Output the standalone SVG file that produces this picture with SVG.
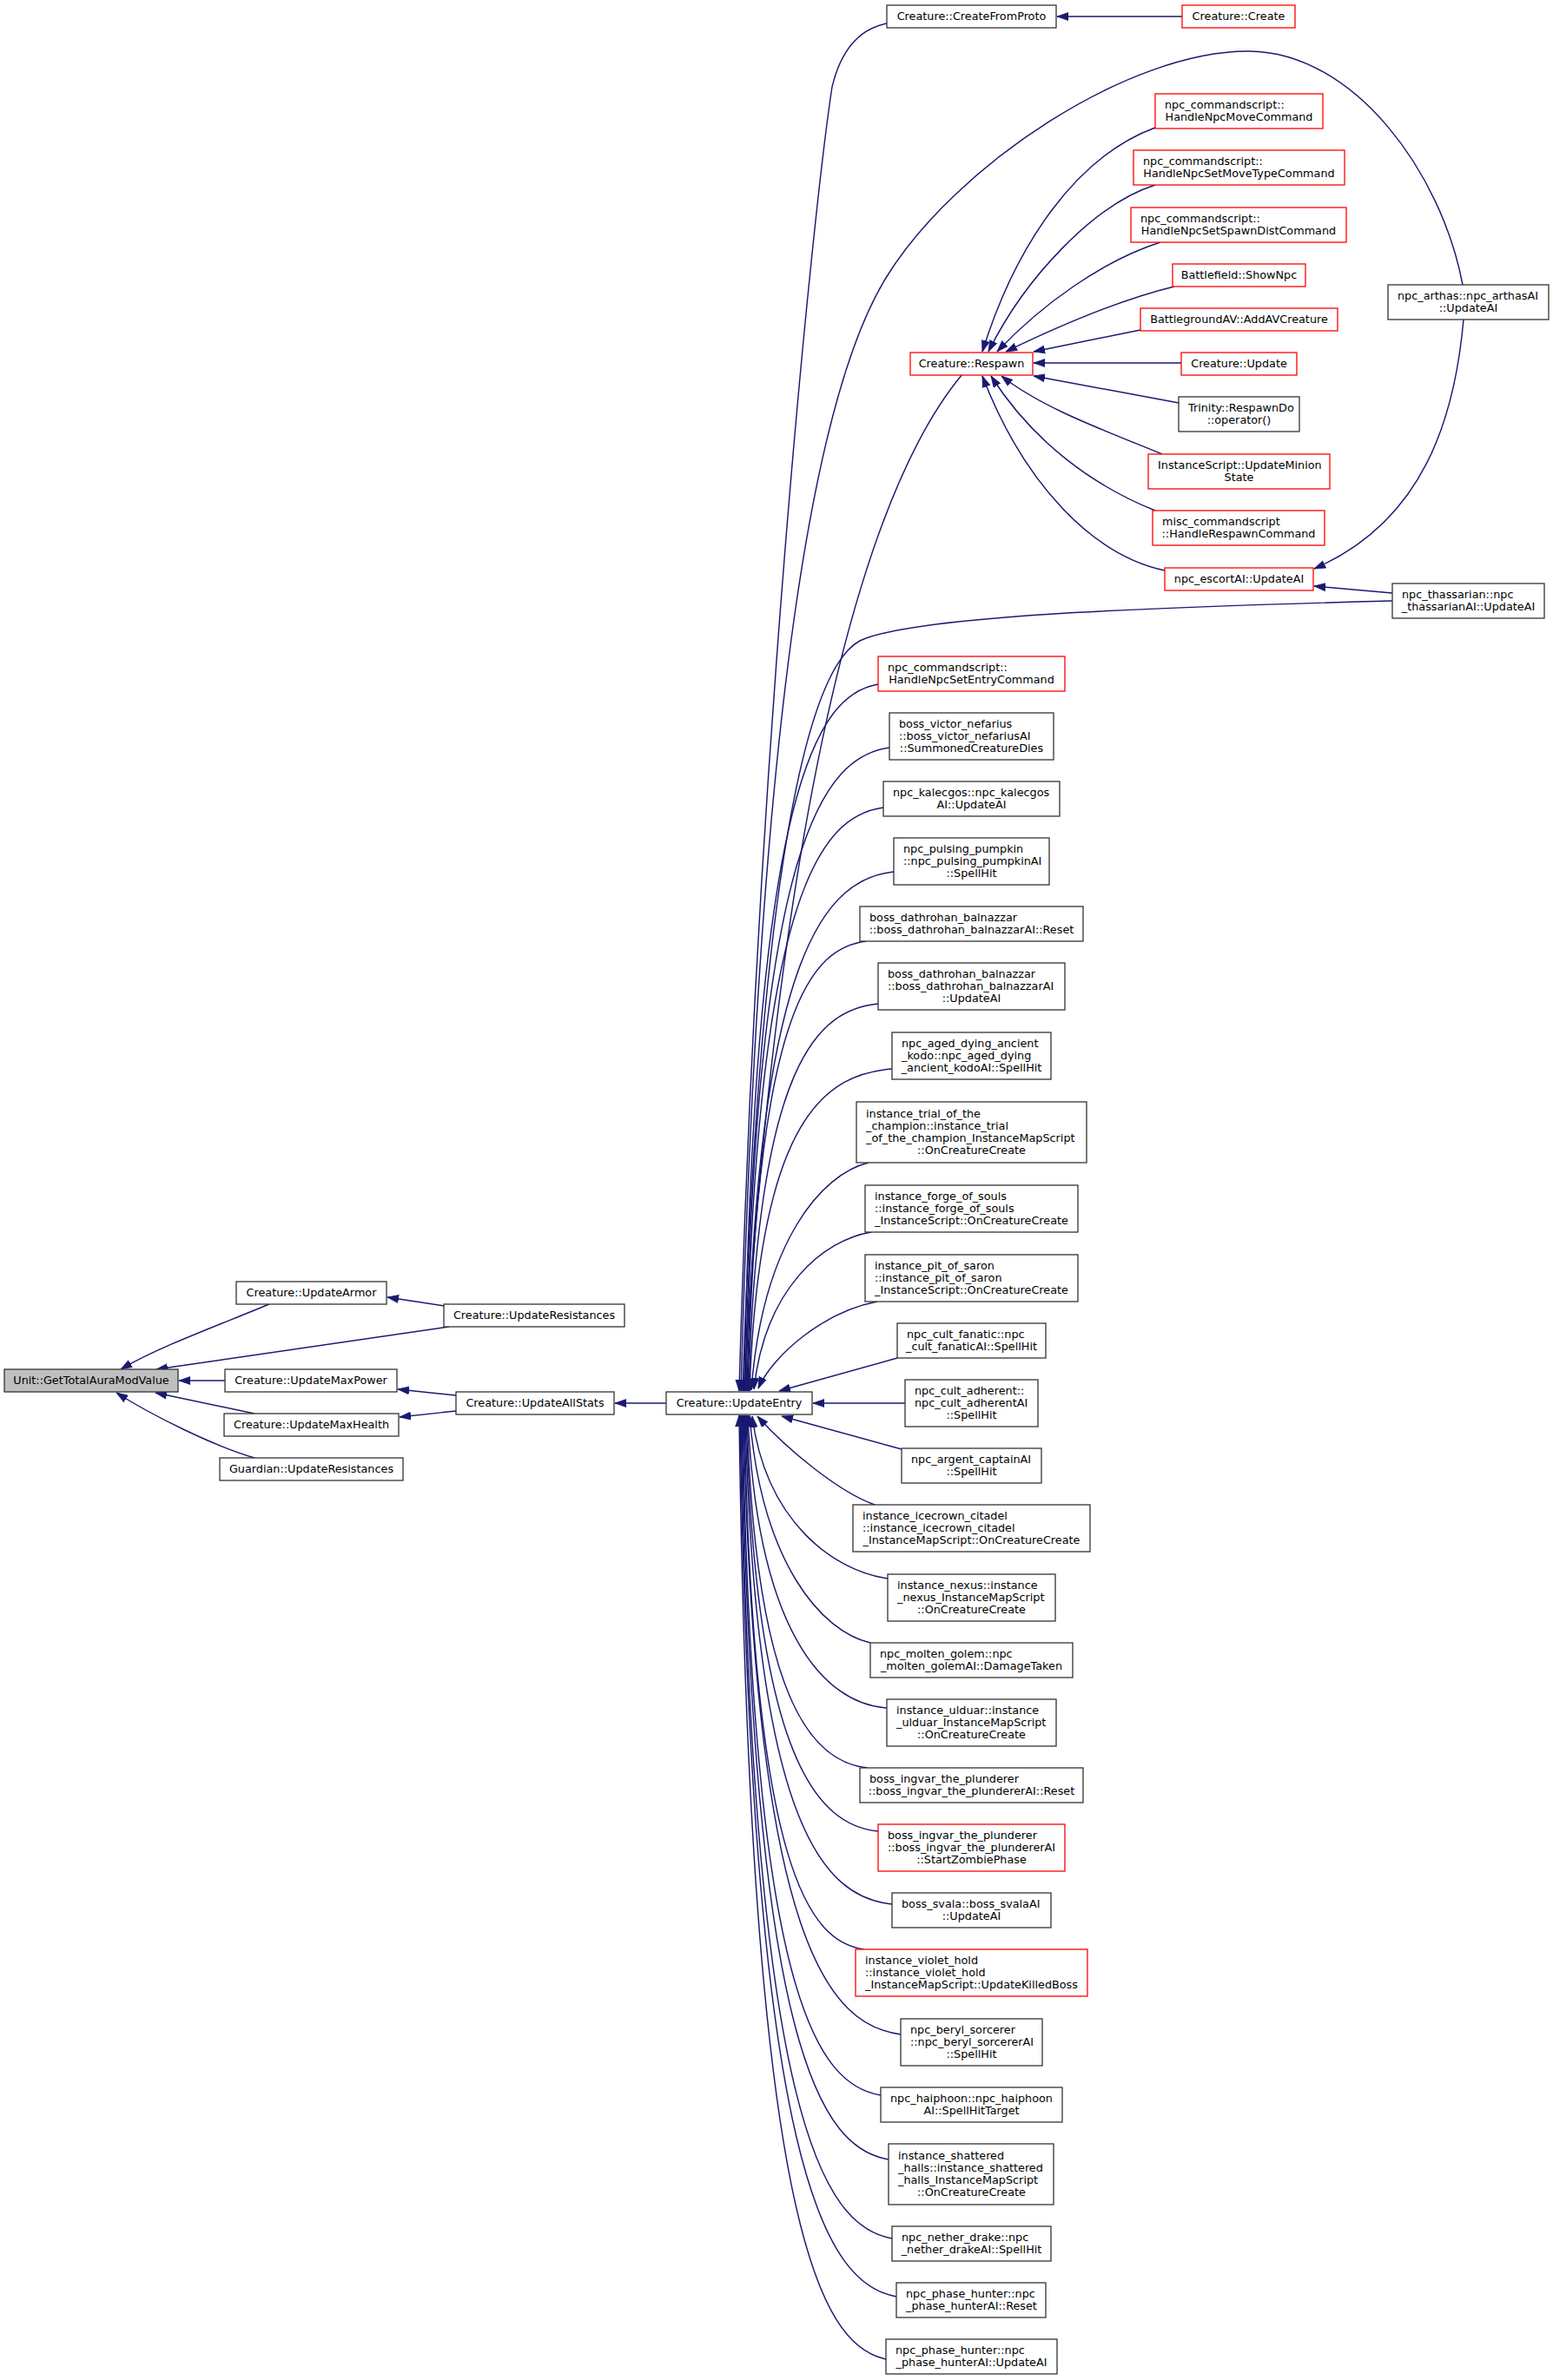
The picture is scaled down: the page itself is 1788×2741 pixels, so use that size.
<svg xmlns="http://www.w3.org/2000/svg" width="1788" height="2741" viewBox="0 0 1788 2741">
<style>
.bg{fill:#fff}
.node rect{fill:#fff;stroke:#333;stroke-width:1.3}
.node.red rect{stroke:#ff0000}
.node.main rect{fill:#bfbfbf}
text{font-family:'DejaVu Sans',sans-serif;font-size:12.8px;fill:#000}
.c{text-anchor:middle}
#edges path{fill:none;stroke:#191970;stroke-width:1.45;marker-end:url(#ah)}
</style>
<defs>
<marker id="ah" markerUnits="userSpaceOnUse" viewBox="0 0 13 10" markerWidth="13" markerHeight="10" refX="13" refY="5" orient="auto"><path d="M0,0.5 L13,5 L0,9.5 z" fill="#191970" stroke="#191970" stroke-width="0.8"/></marker>
</defs>
<rect class="bg" x="0" y="0" width="1788" height="2741"/>
<g id="edges">
<path d="M310,1502 C255,1525 185,1550 139,1577"/>
<path d="M511,1504 L446,1494"/>
<path d="M517,1528 L180,1577"/>
<path d="M259,1590 L206,1590"/>
<path d="M293,1628 L179,1604"/>
<path d="M293,1679 C245,1665 175,1630 134,1604"/>
<path d="M525,1607 L458,1600"/>
<path d="M525,1625 L460,1632"/>
<path d="M767,1616 L708,1616"/>
<path d="M1042,1616 L936,1616"/>
<path d="M1361,19 L1217,19"/>
<path d="M1021,27 C995,32 970,50 958,100 C935,250 870,900 851,1602"/>
<path d="M1684,328 C1660,200 1560,60 1438,59 C1300,58 1100,190 1020,320 C940,450 875,800 853,1602"/>
<path d="M1108,431 C1000,560 900,900 856,1602"/>
<path d="M1603,692 C1300,700 1050,710 990,738 C930,770 875,1000 855,1602"/>
<path d="M1011,788 C942,800 868,902 857,1602"/>
<path d="M1024,861 C949,872 870,965 858,1602"/>
<path d="M1017,930 C946,940 870,1024 859,1602"/>
<path d="M1029,1004 C953,1013 872,1088 860,1602"/>
<path d="M997,1084 C936,1092 871,1156 861,1602"/>
<path d="M1011,1156 C944,1163 872,1218 862,1602"/>
<path d="M1027,1231 C953,1237 874,1283 863,1602"/>
<path d="M1000,1339 C946,1352 878,1430 865,1601"/>
<path d="M1003,1419 C949,1428 881,1482 868,1600"/>
<path d="M1010,1499 C950,1510 890,1560 873,1599"/>
<path d="M1033,1564 L897,1602"/>
<path d="M1038,1669 L900,1631"/>
<path d="M1007,1733 C965,1718 905,1668 872,1631"/>
<path d="M1022,1818 C960,1809 882,1753 866,1631"/>
<path d="M1002,1892 C946,1879 877,1801 863,1630"/>
<path d="M1021,1967 C949,1962 872,1880 861,1630"/>
<path d="M999,2036 C936,2030 870,1960 860,1630"/>
<path d="M1011,2109 C943,2102 870,2030 859,1630"/>
<path d="M1027,2193 C951,2185 870,2110 858,1630"/>
<path d="M995,2245 C933,2236 867,2160 857,1630"/>
<path d="M1037,2343 C956,2332 869,2243 856,1630"/>
<path d="M1014,2413 C942,2401 866,2304 855,1630"/>
<path d="M1023,2487 C947,2474 866,2367 854,1630"/>
<path d="M1027,2578 C949,2564 865,2445 853,1630"/>
<path d="M1032,2645 C951,2630 865,2503 852,1630"/>
<path d="M1020,2717 C944,2701 863,2565 851,1630"/>
<path d="M1330,147 C1240,180 1170,280 1131,405"/>
<path d="M1330,213 C1260,235 1180,320 1138,405"/>
<path d="M1336,279 C1270,300 1200,350 1148,405"/>
<path d="M1352,330 C1290,345 1220,375 1158,405"/>
<path d="M1313,380 L1190,405"/>
<path d="M1360,418 L1190,418"/>
<path d="M1357,464 L1190,433"/>
<path d="M1338,523 C1270,495 1200,470 1153,433"/>
<path d="M1330,588 C1260,560 1190,510 1141,433"/>
<path d="M1341,657 C1260,640 1180,560 1131,433"/>
<path d="M1685,368 C1675,480 1640,600 1513,655"/>
<path d="M1603,683 L1513,675"/>
</g>
<g id="unit_gettotalauramodvalue" class="node main"><rect x="5" y="1577" width="200" height="26"/><text class="c" x="105" y="1594">Unit::GetTotalAuraModValue</text></g>
<g id="creature_updatearmor" class="node"><rect x="272" y="1476" width="173" height="26"/><text class="c" x="358.5" y="1493">Creature::UpdateArmor</text></g>
<g id="creature_updateresistances" class="node"><rect x="511" y="1502" width="208" height="26"/><text class="c" x="615" y="1519">Creature::UpdateResistances</text></g>
<g id="creature_updatemaxpower" class="node"><rect x="259" y="1577" width="198" height="26"/><text class="c" x="358" y="1594">Creature::UpdateMaxPower</text></g>
<g id="creature_updatemaxhealth" class="node"><rect x="258" y="1628" width="201" height="26"/><text class="c" x="358.5" y="1645">Creature::UpdateMaxHealth</text></g>
<g id="guardian_updateresistances" class="node"><rect x="253" y="1679" width="211" height="26"/><text class="c" x="358.5" y="1696">Guardian::UpdateResistances</text></g>
<g id="creature_updateallstats" class="node"><rect x="525" y="1603" width="182" height="26"/><text class="c" x="616" y="1620">Creature::UpdateAllStats</text></g>
<g id="creature_updateentry" class="node"><rect x="767" y="1603" width="168" height="26"/><text class="c" x="851" y="1620">Creature::UpdateEntry</text></g>
<g id="creature_createfromproto" class="node"><rect x="1021" y="6" width="195" height="26"/><text class="c" x="1118.5" y="23">Creature::CreateFromProto</text></g>
<g id="creature_create" class="node red"><rect x="1361" y="6" width="130" height="26"/><text class="c" x="1426" y="23">Creature::Create</text></g>
<g id="handlenpcmovecommand" class="node red"><rect x="1330" y="108" width="193" height="40"/><text x="1341" y="125">npc_commandscript::</text><text class="c" x="1426.5" y="139">HandleNpcMoveCommand</text></g>
<g id="handlenpcsetmovetypecommand" class="node red"><rect x="1305" y="173" width="243" height="40"/><text x="1316" y="190">npc_commandscript::</text><text class="c" x="1426.5" y="204">HandleNpcSetMoveTypeCommand</text></g>
<g id="handlenpcsetspawndistcommand" class="node red"><rect x="1302" y="239" width="248" height="40"/><text x="1313" y="256">npc_commandscript::</text><text class="c" x="1426" y="270">HandleNpcSetSpawnDistCommand</text></g>
<g id="battlefield_shownpc" class="node red"><rect x="1350" y="304" width="153" height="26"/><text class="c" x="1426.5" y="321">Battlefield::ShowNpc</text></g>
<g id="battlegroundav_addavcreature" class="node red"><rect x="1313" y="355" width="227" height="26"/><text class="c" x="1426.5" y="372">BattlegroundAV::AddAVCreature</text></g>
<g id="creature_respawn" class="node red"><rect x="1048" y="406" width="141" height="26"/><text class="c" x="1118.5" y="423">Creature::Respawn</text></g>
<g id="creature_update" class="node red"><rect x="1360" y="406" width="133" height="26"/><text class="c" x="1426.5" y="423">Creature::Update</text></g>
<g id="trinity_respawndo" class="node"><rect x="1357" y="457" width="139" height="40"/><text x="1368" y="474">Trinity::RespawnDo</text><text class="c" x="1426.5" y="488">::operator()</text></g>
<g id="instancescript_updateminionstate" class="node red"><rect x="1322" y="523" width="209" height="40"/><text x="1333" y="540">InstanceScript::UpdateMinion</text><text class="c" x="1426.5" y="554">State</text></g>
<g id="misc_handlerespawncommand" class="node red"><rect x="1327" y="588" width="198" height="40"/><text x="1338" y="605">misc_commandscript</text><text class="c" x="1426" y="619">::HandleRespawnCommand</text></g>
<g id="npc_escortai_updateai" class="node red"><rect x="1341" y="654" width="171" height="26"/><text class="c" x="1426.5" y="671">npc_escortAI::UpdateAI</text></g>
<g id="npc_arthas_updateai" class="node"><rect x="1598" y="328" width="185" height="40"/><text x="1609" y="345">npc_arthas::npc_arthasAI</text><text class="c" x="1690.5" y="359">::UpdateAI</text></g>
<g id="npc_thassarian_updateai" class="node"><rect x="1603" y="672" width="175" height="40"/><text x="1614" y="689">npc_thassarian::npc</text><text class="c" x="1690.5" y="703">_thassarianAI::UpdateAI</text></g>
<g id="handlenpcsetentrycommand" class="node red"><rect x="1011" y="756" width="215" height="40"/><text x="1022" y="773">npc_commandscript::</text><text class="c" x="1118.5" y="787">HandleNpcSetEntryCommand</text></g>
<g id="boss_victor_nefarius" class="node"><rect x="1024" y="821" width="189" height="54"/><text x="1035" y="838">boss_victor_nefarius</text><text x="1035" y="852">::boss_victor_nefariusAI</text><text class="c" x="1118.5" y="866">::SummonedCreatureDies</text></g>
<g id="npc_kalecgos" class="node"><rect x="1017" y="900" width="203" height="40"/><text x="1028" y="917">npc_kalecgos::npc_kalecgos</text><text class="c" x="1118.5" y="931">AI::UpdateAI</text></g>
<g id="npc_pulsing_pumpkin" class="node"><rect x="1029" y="965" width="179" height="54"/><text x="1040" y="982">npc_pulsing_pumpkin</text><text x="1040" y="996">::npc_pulsing_pumpkinAI</text><text class="c" x="1118.5" y="1010">::SpellHit</text></g>
<g id="boss_dathrohan_reset" class="node"><rect x="990" y="1044" width="257" height="40"/><text x="1001" y="1061">boss_dathrohan_balnazzar</text><text class="c" x="1118.5" y="1075">::boss_dathrohan_balnazzarAI::Reset</text></g>
<g id="boss_dathrohan_updateai" class="node"><rect x="1011" y="1109" width="215" height="54"/><text x="1022" y="1126">boss_dathrohan_balnazzar</text><text x="1022" y="1140">::boss_dathrohan_balnazzarAI</text><text class="c" x="1118.5" y="1154">::UpdateAI</text></g>
<g id="npc_aged_dying_ancient_kodo" class="node"><rect x="1027" y="1189" width="183" height="54"/><text x="1038" y="1206">npc_aged_dying_ancient</text><text x="1038" y="1220">_kodo::npc_aged_dying</text><text class="c" x="1118.5" y="1234">_ancient_kodoAI::SpellHit</text></g>
<g id="instance_trial_of_the_champion" class="node"><rect x="986" y="1269" width="265" height="70"/><text x="997" y="1287">instance_trial_of_the</text><text x="997" y="1301">_champion::instance_trial</text><text x="997" y="1315">_of_the_champion_InstanceMapScript</text><text class="c" x="1118.5" y="1329">::OnCreatureCreate</text></g>
<g id="instance_forge_of_souls" class="node"><rect x="996" y="1365" width="245" height="54"/><text x="1007" y="1382">instance_forge_of_souls</text><text x="1007" y="1396">::instance_forge_of_souls</text><text class="c" x="1118.5" y="1410">_InstanceScript::OnCreatureCreate</text></g>
<g id="instance_pit_of_saron" class="node"><rect x="996" y="1445" width="245" height="54"/><text x="1007" y="1462">instance_pit_of_saron</text><text x="1007" y="1476">::instance_pit_of_saron</text><text class="c" x="1118.5" y="1490">_InstanceScript::OnCreatureCreate</text></g>
<g id="npc_cult_fanatic" class="node"><rect x="1033" y="1524" width="171" height="40"/><text x="1044" y="1541">npc_cult_fanatic::npc</text><text class="c" x="1118.5" y="1555">_cult_fanaticAI::SpellHit</text></g>
<g id="npc_cult_adherent" class="node"><rect x="1042" y="1589" width="153" height="54"/><text x="1053" y="1606">npc_cult_adherent::</text><text x="1053" y="1620">npc_cult_adherentAI</text><text class="c" x="1118.5" y="1634">::SpellHit</text></g>
<g id="npc_argent_captain" class="node"><rect x="1038" y="1668" width="161" height="40"/><text x="1049" y="1685">npc_argent_captainAI</text><text class="c" x="1118.5" y="1699">::SpellHit</text></g>
<g id="instance_icecrown_citadel" class="node"><rect x="982" y="1733" width="273" height="54"/><text x="993" y="1750">instance_icecrown_citadel</text><text x="993" y="1764">::instance_icecrown_citadel</text><text class="c" x="1118.5" y="1778">_InstanceMapScript::OnCreatureCreate</text></g>
<g id="instance_nexus" class="node"><rect x="1022" y="1813" width="193" height="54"/><text x="1033" y="1830">instance_nexus::instance</text><text x="1033" y="1844">_nexus_InstanceMapScript</text><text class="c" x="1118.5" y="1858">::OnCreatureCreate</text></g>
<g id="npc_molten_golem" class="node"><rect x="1002" y="1892" width="233" height="40"/><text x="1013" y="1909">npc_molten_golem::npc</text><text class="c" x="1118.5" y="1923">_molten_golemAI::DamageTaken</text></g>
<g id="instance_ulduar" class="node"><rect x="1021" y="1957" width="195" height="54"/><text x="1032" y="1974">instance_ulduar::instance</text><text x="1032" y="1988">_ulduar_InstanceMapScript</text><text class="c" x="1118.5" y="2002">::OnCreatureCreate</text></g>
<g id="boss_ingvar_reset" class="node"><rect x="990" y="2036" width="257" height="40"/><text x="1001" y="2053">boss_ingvar_the_plunderer</text><text class="c" x="1118.5" y="2067">::boss_ingvar_the_plundererAI::Reset</text></g>
<g id="boss_ingvar_startzombiephase" class="node red"><rect x="1011" y="2101" width="215" height="54"/><text x="1022" y="2118">boss_ingvar_the_plunderer</text><text x="1022" y="2132">::boss_ingvar_the_plundererAI</text><text class="c" x="1118.5" y="2146">::StartZombiePhase</text></g>
<g id="boss_svala" class="node"><rect x="1027" y="2180" width="183" height="40"/><text x="1038" y="2197">boss_svala::boss_svalaAI</text><text class="c" x="1118.5" y="2211">::UpdateAI</text></g>
<g id="instance_violet_hold" class="node red"><rect x="985" y="2245" width="267" height="54"/><text x="996" y="2262">instance_violet_hold</text><text x="996" y="2276">::instance_violet_hold</text><text class="c" x="1118.5" y="2290">_InstanceMapScript::UpdateKilledBoss</text></g>
<g id="npc_beryl_sorcerer" class="node"><rect x="1037" y="2325" width="163" height="54"/><text x="1048" y="2342">npc_beryl_sorcerer</text><text x="1048" y="2356">::npc_beryl_sorcererAI</text><text class="c" x="1118.5" y="2370">::SpellHit</text></g>
<g id="npc_haiphoon" class="node"><rect x="1014" y="2404" width="209" height="40"/><text x="1025" y="2421">npc_haiphoon::npc_haiphoon</text><text class="c" x="1118.5" y="2435">AI::SpellHitTarget</text></g>
<g id="instance_shattered_halls" class="node"><rect x="1023" y="2469" width="190" height="70"/><text x="1034" y="2487">instance_shattered</text><text x="1034" y="2501">_halls::instance_shattered</text><text x="1034" y="2515">_halls_InstanceMapScript</text><text class="c" x="1118.5" y="2529">::OnCreatureCreate</text></g>
<g id="npc_nether_drake" class="node"><rect x="1027" y="2564" width="183" height="40"/><text x="1038" y="2581">npc_nether_drake::npc</text><text class="c" x="1118.5" y="2595">_nether_drakeAI::SpellHit</text></g>
<g id="npc_phase_hunter_reset" class="node"><rect x="1032" y="2629" width="172" height="40"/><text x="1043" y="2646">npc_phase_hunter::npc</text><text class="c" x="1118.5" y="2660">_phase_hunterAI::Reset</text></g>
<g id="npc_phase_hunter_updateai" class="node"><rect x="1020" y="2694" width="197" height="40"/><text x="1031" y="2711">npc_phase_hunter::npc</text><text class="c" x="1118.5" y="2725">_phase_hunterAI::UpdateAI</text></g>
</svg>
